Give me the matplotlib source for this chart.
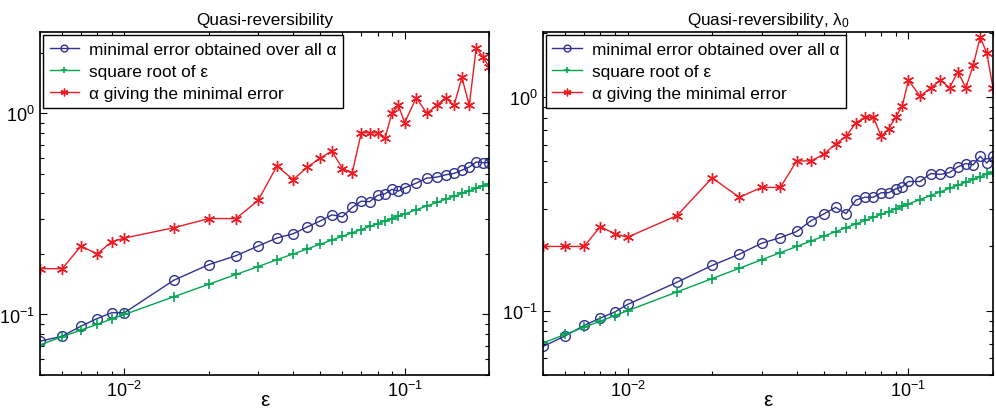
import matplotlib
matplotlib.use("Agg")
import matplotlib.pyplot as plt
from matplotlib.ticker import LogLocator, NullFormatter

plt.rcParams["font.family"] = ["Liberation Sans", "DejaVu Sans"]
plt.rcParams["mathtext.fontset"] = "custom"
plt.rcParams["mathtext.rm"] = "Liberation Sans"
plt.rcParams["mathtext.it"] = "Liberation Sans"
plt.rcParams["mathtext.bf"] = "Liberation Sans"

# noise levels epsilon
eps = [0.005, 0.006, 0.007, 0.008, 0.009, 0.01, 0.015, 0.02, 0.025, 0.03,
       0.035, 0.04, 0.045, 0.05, 0.055, 0.06, 0.065, 0.07, 0.075, 0.08,
       0.085, 0.09, 0.095, 0.1, 0.11, 0.12, 0.13, 0.14, 0.15, 0.16,
       0.17, 0.18, 0.19, 0.2]

sqrt_eps = [0.0707, 0.0775, 0.0837, 0.0894, 0.0949, 0.1, 0.1225, 0.1414, 0.1581, 0.1732,
            0.1871, 0.2, 0.2121, 0.2236, 0.2345, 0.2449, 0.255, 0.2646, 0.2739, 0.2828,
            0.2915, 0.3, 0.3082, 0.3162, 0.3317, 0.3464, 0.3606, 0.3742, 0.3873, 0.4,
            0.4123, 0.4243, 0.4359, 0.4472]

# left panel: quasi-reversibility
err_qr = [0.0736, 0.078, 0.0875, 0.0955, 0.102, 0.102, 0.148, 0.177, 0.196, 0.219,
          0.240, 0.252, 0.273, 0.292, 0.313, 0.306, 0.341, 0.366, 0.364, 0.391,
          0.398, 0.419, 0.411, 0.427, 0.450, 0.477, 0.482, 0.495, 0.503, 0.522,
          0.541, 0.573, 0.569, 0.569]
alpha_qr = [0.169, 0.169, 0.219, 0.200, 0.230, 0.240, 0.270, 0.300, 0.300, 0.369,
            0.547, 0.469, 0.541, 0.600, 0.650, 0.531, 0.507, 0.801, 0.801, 0.801,
            0.751, 1.0, 1.096, 0.899, 1.197, 1.0, 1.096, 1.197, 1.096, 1.51,
            1.096, 2.12, 1.91, 1.71]

# right panel: quasi-reversibility with lambda_0
err_l0 = [0.068, 0.0763, 0.0853, 0.0924, 0.0986, 0.107, 0.136, 0.163, 0.184, 0.207,
          0.220, 0.235, 0.264, 0.284, 0.305, 0.285, 0.330, 0.340, 0.340, 0.357,
          0.357, 0.372, 0.380, 0.403, 0.403, 0.439, 0.435, 0.444, 0.472, 0.489,
          0.482, 0.529, 0.492, 0.529]
alpha_l0 = [0.200, 0.200, 0.200, 0.248, 0.229, 0.221, 0.279, 0.419, 0.340, 0.378,
            0.378, 0.503, 0.503, 0.541, 0.604, 0.656, 0.759, 0.806, 0.806, 0.656,
            0.711, 0.806, 0.908, 1.202, 1.01, 1.107, 1.202, 1.107, 1.315, 1.107,
            1.408, 1.91, 1.61, 1.107]

titles = ["Quasi-reversibility", r"Quasi-reversibility, $\lambda_0$"]
ylims = [(0.05, 2.54), (0.05, 2.02)]
labels = [u"minimal error obtained over all \u03b1",
          u"square root of \u03b5",
          u"\u03b1 giving the minimal error"]

BLUE = "#2e3192"
GREEN = "#00a651"
RED = "#ed1c24"
ASTERISK = (6, 2, 0)

fig = plt.figure(figsize=(9.96, 4.10), dpi=100)
axes = [fig.add_axes([0.0402, 0.0829, 0.4508, 0.8366]),
        fig.add_axes([0.5452, 0.0829, 0.4518, 0.8366])]

for ax, err, alpha, title, ylim in zip(axes, [err_qr, err_l0], [alpha_qr, alpha_l0], titles, ylims):
    ax.loglog(eps, err, color=BLUE, marker="o", ms=7, mfc="none", mew=1.0, lw=1.0, label=labels[0])
    ax.loglog(eps, sqrt_eps, color=GREEN, marker="+", ms=7, mew=1.2, lw=1.0, label=labels[1])
    ax.loglog(eps, alpha, color=RED, marker=ASTERISK, ms=8, mew=1.0, lw=1.0, label=labels[2])
    ax.set_xlim(0.005, 0.2)
    ax.set_ylim(*ylim)
    ax.set_title(title, fontsize=12.3, pad=6)
    ax.set_xlabel(u"\u03b5", fontsize=15, va="center")
    ax.xaxis.set_label_coords(0.5, -0.07)
    ax.xaxis.set_minor_locator(LogLocator(base=10, subs=range(2, 10)))
    ax.yaxis.set_minor_locator(LogLocator(base=10, subs=range(2, 10)))
    ax.xaxis.set_minor_formatter(NullFormatter())
    ax.yaxis.set_minor_formatter(NullFormatter())
    ax.tick_params(which="both", direction="in", top=True, right=True, labelsize=13, width=0.8)
    ax.tick_params(which="major", length=5)
    ax.tick_params(which="minor", length=3)
    for s in ax.spines.values():
        s.set_linewidth(1.2)
    leg = ax.legend(loc="upper left", fontsize=12.4, frameon=True, fancybox=False,
                    framealpha=1, edgecolor="black", borderaxespad=0.15,
                    handlelength=1.7, handletextpad=0.58, labelspacing=0.42,
                    borderpad=0.4, markerscale=0.7)
    leg.get_frame().set_linewidth(1.0)

fig.savefig("out.png", dpi=100)
